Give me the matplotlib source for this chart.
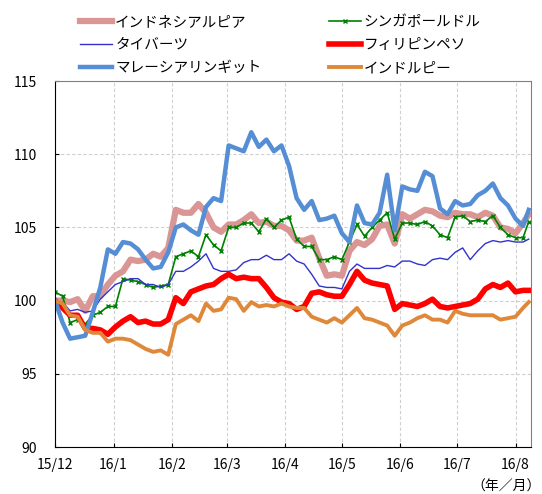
import pandas as pd
import matplotlib
matplotlib.use("Agg")
import matplotlib.pyplot as plt

plt.rcParams['font.family'] = ['Noto Sans CJK JP', 'DejaVu Sans']

# 4-day grid from 2015/12/1, last point 2016/8/8
dates = list(pd.date_range('2015-12-01', periods=63, freq='4D')) + [pd.Timestamp('2016-08-08')]

idr = [100.0, 100.0, 99.9, 100.1, 99.3, 100.3, 100.3, 101.1, 101.7, 102.0,
       102.8, 102.7, 102.8, 103.2, 103.0, 103.6, 106.2, 106.0, 106.0, 106.6,
       106.0, 105.0, 104.7, 105.2, 105.2, 105.5, 105.9, 105.3, 105.4, 105.1,
       105.1, 104.8, 104.1, 104.1, 104.3, 102.9, 101.7, 101.8, 101.7, 103.4,
       104.0, 103.8, 104.2, 105.1, 105.2, 103.9, 105.9, 105.6, 105.9, 106.2,
       106.1, 105.8, 105.7, 106.0, 105.9, 105.9, 105.7, 106.0, 105.8, 105.0,
       104.9, 104.6, 105.3, 105.9]
sgd = [100.6, 100.3, 98.5, 98.7, 98.4, 99.0, 99.2, 99.6, 99.6, 101.5,
       101.4, 101.3, 101.1, 100.9, 101.0, 101.1, 103.0, 103.2, 103.4, 103.0,
       104.5, 103.8, 103.4, 105.0, 105.0, 105.3, 105.3, 104.7, 105.6, 105.0,
       105.5, 105.7, 104.2, 103.7, 103.7, 102.8, 102.8, 103.0, 102.8, 104.0,
       105.2, 104.4, 105.0, 105.5, 106.0, 104.2, 105.3, 105.3, 105.2, 105.4,
       105.1, 104.5, 104.3, 105.7, 105.8, 105.4, 105.5, 105.4, 105.8, 105.0,
       104.5, 104.3, 104.3, 105.4]
thb = [100.0, 99.9, 99.3, 99.4, 99.2, 99.3, 100.1, 100.6, 101.1, 101.3,
       101.5, 101.5, 101.1, 101.1, 100.9, 101.1, 102.0, 102.0, 102.3, 102.7,
       103.2, 102.2, 102.0, 102.0, 102.1, 102.6, 102.8, 102.8, 103.1, 102.8,
       102.8, 103.2, 102.7, 102.5, 101.8, 101.0, 100.9, 100.9, 100.8, 102.0,
       102.5, 102.2, 102.2, 102.2, 102.4, 102.3, 102.7, 102.7, 102.5, 102.4,
       102.8, 102.9, 102.8, 103.3, 103.6, 102.8, 103.4, 103.9, 104.1, 104.0,
       104.1, 104.0, 104.0, 104.2]
php = [100.0, 99.5, 99.0, 99.0, 98.1, 98.1, 98.0, 97.7, 98.2, 98.6,
       98.9, 98.5, 98.6, 98.4, 98.4, 98.7, 100.2, 99.8, 100.6, 100.8,
       101.0, 101.1, 101.5, 101.8, 101.5, 101.6, 101.5, 101.5, 100.9, 100.2,
       99.9, 99.8, 99.4, 99.6, 100.5, 100.6, 100.4, 100.3, 100.3, 101.1,
       102.0, 101.4, 101.2, 101.1, 101.0, 99.4, 99.8, 99.7, 99.6, 99.8,
       100.1, 99.6, 99.5, 99.6, 99.7, 99.8, 100.1, 100.8, 101.1, 100.9,
       101.2, 100.6, 100.7, 100.7]
myr = [100.0, 98.5, 97.4, 97.5, 97.6, 99.2, 100.9, 103.5, 103.2, 104.0,
       103.9, 103.5, 102.8, 102.2, 102.3, 103.3, 105.0, 105.2, 104.8, 104.5,
       106.4, 107.0, 106.8, 110.6, 110.4, 110.2, 111.5, 110.5, 111.0, 110.2,
       110.6, 109.2, 107.0, 106.2, 106.8, 105.5, 105.6, 105.8, 104.6, 104.0,
       106.5, 105.3, 105.2, 106.0, 108.6, 104.8, 107.8, 107.6, 107.5, 108.8,
       108.5, 106.3, 105.9, 106.8, 106.5, 106.6, 107.2, 107.5, 108.0, 107.0,
       106.5, 105.6, 105.1, 106.2]
inr = [100.0, 99.8, 99.0, 98.9, 98.0, 97.8, 97.8, 97.2, 97.4, 97.4,
       97.3, 97.0, 96.7, 96.5, 96.6, 96.3, 98.4, 98.7, 99.0, 98.6,
       99.8, 99.3, 99.4, 100.2, 100.1, 99.3, 99.9, 99.6, 99.7, 99.6,
       99.8, 99.6, 99.5, 99.5, 98.9, 98.7, 98.5, 98.8, 98.5, 99.0,
       99.5, 98.8, 98.7, 98.5, 98.3, 97.6, 98.3, 98.5, 98.8, 99.0,
       98.7, 98.7, 98.5, 99.3, 99.1, 99.0, 99.0, 99.0, 99.0, 98.7,
       98.8, 98.9, 99.5, 99.9]

tick_dates = pd.date_range('2015-12-01', '2016-08-01', freq='MS')
tick_labels = ['15/12', '16/1', '16/2', '16/3', '16/4', '16/5', '16/6', '16/7', '16/8']

fig = plt.figure(figsize=(5.42, 4.94), dpi=100)
ax = fig.add_axes([0.1015, 0.0951, 0.8775, 0.7409])

h_idr, = ax.plot(dates, idr, color='#d99694', lw=4.5, solid_joinstyle='round')
h_sgd, = ax.plot(dates, sgd, color='#008000', lw=1.2, marker='x', ms=3.5, mew=1)
h_thb, = ax.plot(dates, thb, color='#3333cc', lw=1.0)
h_php, = ax.plot(dates, php, color='#ff0000', lw=4.0, solid_joinstyle='round')
h_myr, = ax.plot(dates, myr, color='#558ed5', lw=3.2, solid_joinstyle='round')
h_inr, = ax.plot(dates, inr, color='#e0883a', lw=2.8, solid_joinstyle='round')

ax.set_ylim(90, 115)
ax.set_yticks([90, 95, 100, 105, 110, 115])
ax.set_xlim(pd.Timestamp('2015-12-01'), pd.Timestamp('2016-08-09'))
ax.set_xticks(tick_dates)
ax.set_xticklabels(tick_labels)
ax.tick_params(direction='in', length=3, labelsize=10)
ax.tick_params(axis='y', pad=13)
ax.tick_params(axis='x', pad=8)
ax.grid(True, color='#cfcfcf', linestyle=(0, (3, 2)), lw=0.8)
ax.set_axisbelow(True)
for s in ['top', 'right']:
    ax.spines[s].set_color('#808080')
for s in ['left', 'bottom']:
    ax.spines[s].set_color('black')

handles = [h_idr, h_thb, h_myr, h_sgd, h_php, h_inr]
labels = ['インドネシアルピア', 'タイバーツ', 'マレーシアリンギット',
          'シンガポールドル', 'フィリピンペソ', 'インドルピー']
fig.legend(handles, labels, ncol=2, loc='upper left', bbox_to_anchor=(0.148, 0.970),
           frameon=False, fontsize=10.5, handlelength=2.2, handletextpad=0.2,
           labelspacing=0.62, columnspacing=4.6, borderpad=0, borderaxespad=0)

fig.text(0.998, 0.014, '（年／月）', ha='right', va='center', fontsize=10)

fig.savefig('out.png', dpi=100)
